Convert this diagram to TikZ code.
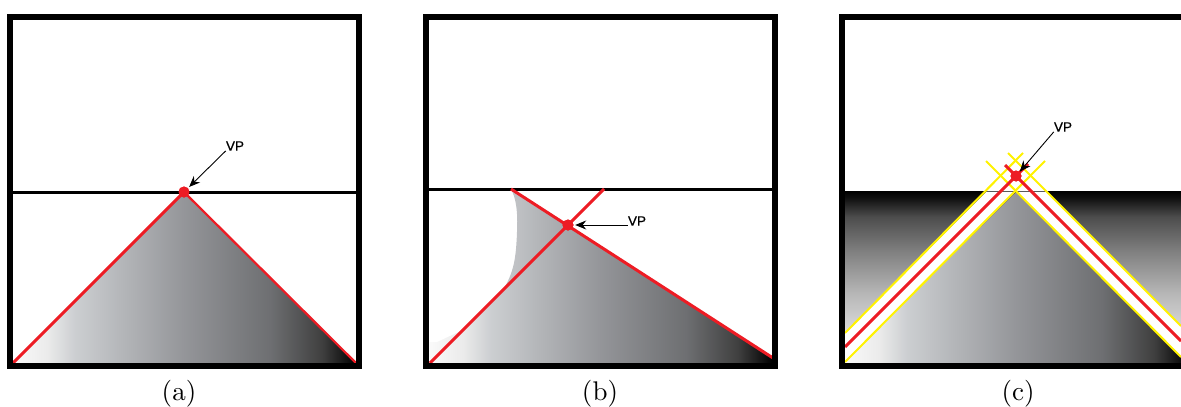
\documentclass[tikz,border=0pt]{standalone}
\usepackage{fontspec}
\newfontfamily\vpfont{Liberation Sans}[FakeBold=0.9]
\usetikzlibrary{arrows.meta}
\definecolor{vpred}{HTML}{ED1C24}
\definecolor{vpyellow}{HTML}{FFF200}
\pgfdeclarehorizontalshading{roadshade}{100bp}{
  rgb(0bp)=(0.98,0.98,0.98);
  rgb(25bp)=(0.98,0.98,0.98);
  rgb(30bp)=(0.92,0.92,0.92);
  rgb(34bp)=(0.80,0.81,0.82);
  rgb(50bp)=(0.58,0.585,0.6);
  rgb(62.5bp)=(0.43,0.435,0.445);
  rgb(70bp)=(0.25,0.25,0.25);
  rgb(74bp)=(0.05,0.05,0.05);
  rgb(75bp)=(0,0,0);
  rgb(100bp)=(0,0,0)}
\pgfdeclareverticalshading{groundshade}{100bp}{
  rgb(0bp)=(0.97,0.97,0.97);
  rgb(25bp)=(0.97,0.97,0.97);
  rgb(45bp)=(0.72,0.72,0.72);
  rgb(57.5bp)=(0.5,0.5,0.5);
  rgb(67.5bp)=(0.3,0.3,0.3);
  rgb(73bp)=(0.06,0.06,0.06);
  rgb(75bp)=(0,0,0);
  rgb(100bp)=(0,0,0)}
\tikzset{
  frameline/.style={draw=black,line width=6pt,miter limit=10},
  horizonline/.style={draw=black,line width=3pt},
  redline/.style={draw=vpred,line width=3pt},
  thinred/.style={draw=vpred,line width=2.2pt},
  yellowline/.style={draw=vpyellow,line width=2pt},
  vpdot/.style={circle,fill=vpred,inner sep=0pt,minimum size=11pt},
  vplabel/.style={inner sep=0pt,font=\vpfont\fontsize{13.5}{15}\selectfont},
  vparrow/.style={draw=black,line width=0.9pt,-{Stealth[length=11pt,width=9pt]},shorten >=1.5pt},
  caption/.style={inner sep=0pt,scale=2.7}
}
\begin{document}
\begin{tikzpicture}[x=1pt,y=-1pt]
\useasboundingbox (0,0) rectangle (1181,407);
% ---------- panel a
\shade[shading=roadshade] (13,363) -- (184,192) -- (356,363) -- cycle;
\coordinate (aL) at (13,363);
\coordinate (aR) at (356,363);
\coordinate (aHL) at (13,192);
\coordinate (aHR) at (356,192);
\node[vpdot] (dotA) at (184,192) {};
\draw[horizonline] (aHL) -- (aHR);
\draw[redline] (aL) -- (dotA.center);
\draw[thinred] (aR) -- (dotA.center);
\node[vpdot] at (dotA.center) {};
\draw[frameline] (10,17) rectangle (359,366);
\node[vplabel] (vpA) at (235,146) {VP};
\draw[vparrow] (vpA.south west) -- (dotA);
\node[caption] (capA) at (179,394) {(a)};
% ---------- panel b
\begin{scope}
\clip (430,363) -- (429,342) -- (437,342) -- (463,330) -- (503,290)
  .. controls (514,272) and (516,258) .. (517,232)
  .. controls (518,212) and (516,198) .. (511,189)
  -- (568,225) -- (772,358) -- (772,363) -- cycle;
\shade[shading=roadshade] (429,189) rectangle (772,363);
\end{scope}
\coordinate (bL) at (430,363);
\coordinate (bR) at (773,358);
\coordinate (bT1) at (604,189);
\coordinate (bT2) at (511,189);
\coordinate (bHL) at (429,189);
\coordinate (bHR) at (772,189);
\node[vpdot] (dotB) at (568,225) {};
\draw[horizonline] (bHL) -- (bHR);
\draw[redline] (bL) -- (bT1);
\draw[redline] (bT2) -- (bR);
\node[vpdot] at (dotB.center) {};
\draw[frameline] (426,17) rectangle (775,366);
\node[vplabel] (vpB) at (637,221) {VP};
\coordinate (bArrowStart) at (vpB.south west |- dotB);
\draw[vparrow] (bArrowStart) -- (dotB);
\node[caption] (capB) at (600,394) {(b)};
% ---------- panel c
\shade[shading=groundshade] (845,191) rectangle (1181,363);
\fill[white] (845,333) -- (986.5,191.5) -- (1015.5,191.5) -- (845,362) -- cycle;
\fill[white] (1181,326) -- (1046,191.5) -- (1016.5,191.5) -- (1181,357) -- cycle;
\begin{scope}
\clip (845,362) -- (845,363) -- (1181,363) -- (1181,357) -- (1016,192) -- cycle;
\shade[shading=roadshade] (845,191) rectangle (1188,363);
\end{scope}
\coordinate (cLo) at (845,333);
\coordinate (cLi) at (845,362);
\coordinate (cLm) at (845,347);
\coordinate (cRo) at (1181,326);
\coordinate (cRi) at (1181,357);
\coordinate (cRm) at (1181,341);
\coordinate (cLoT) at (1023,153);
\coordinate (cLiT) at (1045,161);
\coordinate (cLmT) at (1028,164);
\coordinate (cRoT) at (1008,153);
\coordinate (cRiT) at (986,161);
\coordinate (cRmT) at (1005,165);
\node[vpdot] (dotC) at (1016,176) {};
\draw[yellowline] (cLo) -- (cLoT);
\draw[yellowline] (cLi) -- (cLiT);
\draw[yellowline] (cRo) -- (cRoT);
\draw[yellowline] (cRi) -- (cRiT);
\draw[redline] (cLm) -- (cLmT);
\draw[redline] (cRm) -- (cRmT);
\node[vpdot] at (dotC.center) {};
\draw[frameline] (1181,17) -- (842,17) -- (842,366) -- (1181,366);
\node[vplabel] (vpC) at (1063,127) {VP};
\draw[vparrow,shorten >=0pt] (vpC.south west) -- (dotC);
\node[caption] (capC) at (1018,394) {(c)};
\end{tikzpicture}
\end{document}
